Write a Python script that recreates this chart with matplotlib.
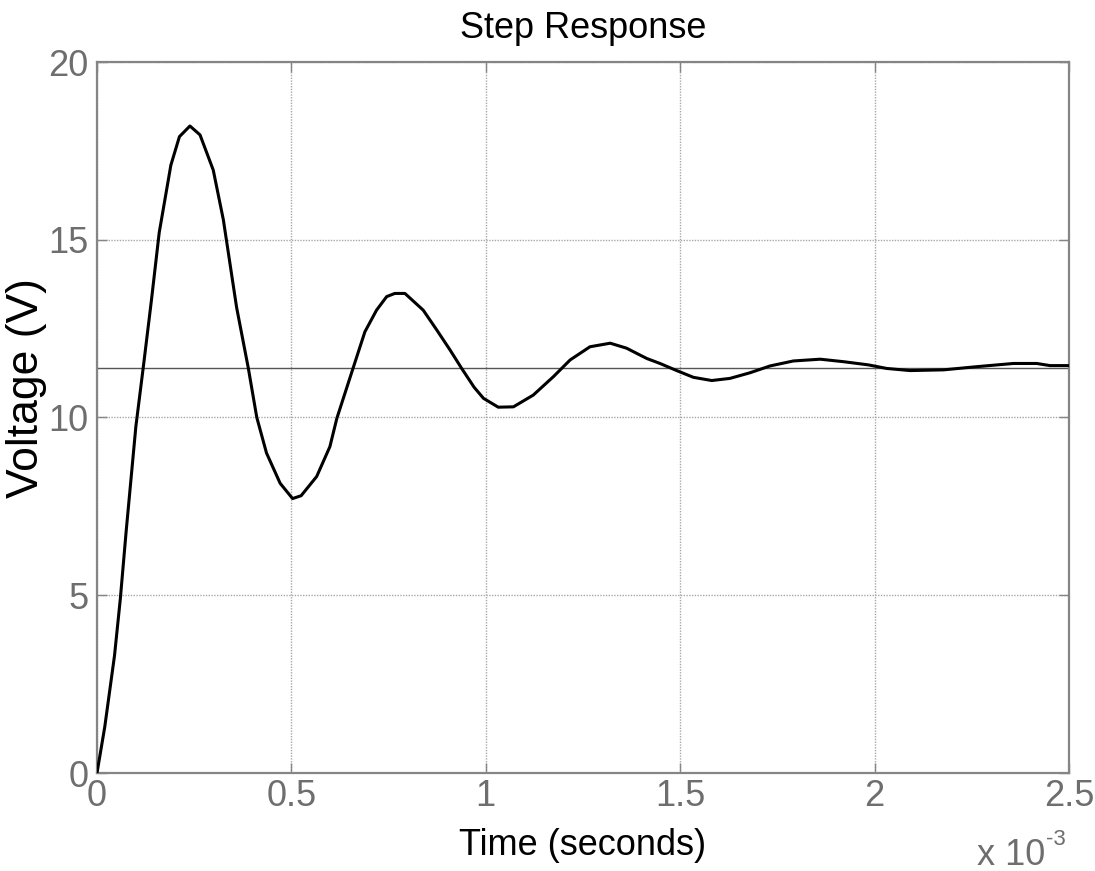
import numpy as np
import matplotlib
matplotlib.use("Agg")
import matplotlib.pyplot as plt

# step response (time in ms, voltage in V)
time_ms = [0.000, 0.020, 0.045, 0.060, 0.075, 0.100, 0.120, 0.140, 0.160, 0.190,
           0.212, 0.239, 0.265, 0.299, 0.325, 0.359, 0.389, 0.411, 0.436, 0.471,
           0.503, 0.525, 0.565, 0.599, 0.617, 0.659, 0.689, 0.719, 0.745, 0.766,
           0.792, 0.839, 0.874, 0.908, 0.938, 0.970, 0.994, 1.032, 1.071, 1.122,
           1.174, 1.217, 1.268, 1.320, 1.362, 1.414, 1.448, 1.491, 1.534, 1.581,
           1.628, 1.680, 1.731, 1.791, 1.860, 1.920, 1.984, 2.031, 2.091, 2.177,
           2.263, 2.357, 2.417, 2.451, 2.500]
voltage = [0.00, 1.30, 3.30, 4.90, 6.80, 9.75, 11.50, 13.30, 15.20, 17.10,
           17.90, 18.20, 17.95, 16.96, 15.56, 13.10, 11.40, 10.00, 9.00, 8.15,
           7.72, 7.80, 8.34, 9.18, 9.98, 11.40, 12.41, 13.02, 13.40, 13.49,
           13.49, 13.02, 12.46, 11.90, 11.38, 10.85, 10.54, 10.29, 10.30, 10.63,
           11.15, 11.62, 11.99, 12.09, 11.95, 11.66, 11.52, 11.32, 11.13, 11.04,
           11.10, 11.26, 11.45, 11.59, 11.64, 11.57, 11.48, 11.38, 11.32, 11.34,
           11.43, 11.52, 11.52, 11.46, 11.46]
final_value = 11.4

x_ticks = [0, 0.5, 1, 1.5, 2, 2.5]
x_tick_labels = ["0", "0.5", "1", "1.5", "2", "2.5"]
y_ticks = [0, 5, 10, 15, 20]

plt.rcParams["font.family"] = ["Liberation Sans", "DejaVu Sans"]

tick_gray = "#6e6e6e"
spine_gray = "#858585"

fig = plt.figure(figsize=(10.95, 8.71), dpi=100)
ax = fig.add_axes([97 / 1095, 1 - 773 / 871, (1069 - 97) / 1095, (773 - 62) / 871])

ax.plot(time_ms, voltage, color="black", linewidth=2.2, zorder=3)
ax.axhline(final_value, color="#555555", linewidth=1.0, zorder=2)

ax.set_xlim(0, 2.5)
ax.set_ylim(0, 20)
ax.set_xticks(x_ticks)
ax.set_xticklabels(x_tick_labels)
ax.set_yticks(y_ticks)

ax.grid(True, color="#a8a8a8", linestyle=(0, (1, 1)), linewidth=1.0, zorder=1)

for s in ax.spines.values():
    s.set_color(spine_gray)
    s.set_linewidth(1.6)

ax.tick_params(direction="in", top=True, right=True, length=7, width=1.0,
               color=spine_gray, labelcolor=tick_gray, labelsize=26)
ax.tick_params(axis="x", pad=4)
ax.tick_params(axis="y", pad=6)

fig.text(583 / 1095, 1 - 38 / 871, "Step Response", ha="center", va="baseline",
         fontsize=26, color="black")
fig.text(583 / 1095, 1 - 855 / 871, "Time (seconds)", ha="center", va="baseline",
         fontsize=26, color="black")
fig.text(27 / 1095, 1 - 388 / 871, "Voltage (V)", ha="center", va="center",
         rotation=90, fontsize=32, color="black")
# axis multiplier, drawn as "x 10" with a small raised "-3"
fig.text(1045 / 1095, 1 - 865 / 871, "x 10", ha="right", va="baseline",
         fontsize=26, color=tick_gray)
fig.text(1046 / 1095, 1 - 845 / 871, "-3", ha="left", va="baseline",
         fontsize=16, color=tick_gray)

fig.savefig("out.png", dpi=100)
